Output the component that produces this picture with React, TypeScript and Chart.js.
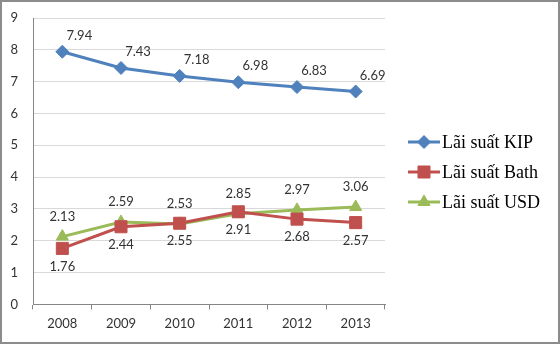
import React, { useEffect, useRef } from "react";
import { Chart, registerables } from "chart.js";

Chart.register(...registerables);

const years = ["2008", "2009", "2010", "2011", "2012", "2013"];
const kip = [7.94, 7.43, 7.18, 6.98, 6.83, 6.69];
const bath = [1.76, 2.44, 2.55, 2.91, 2.68, 2.57];
const usd = [2.13, 2.59, 2.53, 2.85, 2.97, 3.06];
const seriesNames = ["Lãi suất KIP", "Lãi suất Bath", "Lãi suất USD"];
const yTicks = [0, 1, 2, 3, 4, 5, 6, 7, 8, 9];

const COLORS = ["#4F81BD", "#C0504D", "#9BBB59"];
const LABEL_FONT = "13px Lato";

const labelPlugin = {
  id: "valueLabels",
  afterDatasetsDraw(chart: any) {
    const ctx = chart.ctx;
    ctx.save();
    ctx.font = LABEL_FONT;
    ctx.fillStyle = "#333333";
    ctx.textAlign = "center";
    ctx.textBaseline = "middle";
    chart.data.datasets.forEach((ds: any, i: number) => {
      const meta = chart.getDatasetMeta(i);
      meta.data.forEach((pt: any, j: number) => {
        const v = ds.data[j];
        ctx.fillText(v.toFixed(2), pt.x + ds.labelDx, pt.y + ds.labelDy);
      });
    });
    ctx.restore();
  },
};

function drawMarker(ctx: any, style: string, x: number, y: number, r: number) {
  ctx.beginPath();
  if (style === "rectRot") {
    ctx.moveTo(x - r, y);
    ctx.lineTo(x, y - r);
    ctx.lineTo(x + r, y);
    ctx.lineTo(x, y + r);
    ctx.closePath();
  } else if (style === "rect") {
    const s = Math.SQRT1_2 * r;
    ctx.rect(x - s, y - s, 2 * s, 2 * s);
  } else {
    const side = (r * 3) / Math.sqrt(3);
    ctx.moveTo(x - side / 2, y + r / 2);
    ctx.lineTo(x + side / 2, y + r / 2);
    ctx.lineTo(x, y - r);
    ctx.closePath();
  }
  ctx.fill();
  ctx.stroke();
}

const legendPlugin = {
  id: "sideLegend",
  afterDraw(chart: any) {
    const ctx = chart.ctx;
    const area = chart.chartArea;
    const x0 = area.right + 23;
    const cy = 170;
    ctx.save();
    chart.data.datasets.forEach((ds: any, i: number) => {
      const y = cy + (i - 1) * 30;
      ctx.strokeStyle = ds.borderColor;
      ctx.lineWidth = 3;
      ctx.beginPath();
      ctx.moveTo(x0, y);
      ctx.lineTo(x0 + 32, y);
      ctx.stroke();
      ctx.fillStyle = ds.backgroundColor;
      ctx.strokeStyle = ds.borderColor;
      ctx.lineWidth = 1;
      drawMarker(ctx, ds.pointStyle, x0 + 16, y, ds.pointRadius);
      ctx.fillStyle = "#000000";
      ctx.font = "18px 'Liberation Serif'";
      ctx.textAlign = "left";
      ctx.textBaseline = "middle";
      ctx.fillText(ds.label, x0 + 34, y + 1);
    });
    ctx.restore();
  },
};

export default function App() {
  const ref = useRef<HTMLCanvasElement | null>(null);

  useEffect(() => {
    document.body.style.margin = "0";
    if (!ref.current) return;
    const styles = ["rectRot", "rect", "triangle"];
    const labelOffsets = [
      [17, -16],
      [0, 18],
      [0, -20],
    ];
    const series = [kip, bath, usd];
    const chart = new Chart(ref.current, {
      type: "line",
      data: {
        labels: years,
        datasets: series.map((d, i) => ({
          label: seriesNames[i],
          data: d,
          borderColor: COLORS[i],
          backgroundColor: COLORS[i],
          borderWidth: 3,
          pointStyle: styles[i],
          pointRadius: i === 1 ? 8.5 : i === 2 ? 7 : 6.5,
          pointBorderWidth: 1,
          pointHoverRadius: 7,
          tension: 0,
          labelDx: labelOffsets[i][0],
          labelDy: labelOffsets[i][1],
        })) as any,
      },
      options: {
        animation: false,
        responsive: false,
        maintainAspectRatio: false,
        layout: { padding: { left: 0, right: 173, top: 16, bottom: 3 } },
        plugins: {
          legend: { display: false },
          tooltip: { enabled: false },
        },
        scales: {
          x: {
            offset: true,
            grid: {
              offset: true,
              drawOnChartArea: false,
              drawTicks: true,
              tickLength: 5,
              color: "#868686",
            },
            border: { display: true, color: "#868686", width: 1 },
            ticks: {
              color: "#333333",
              font: { family: "Lato", size: 13 },
              padding: 7,
            },
          },
          y: {
            min: 0,
            max: 9,
            afterBuildTicks: (scale: any) => {
              scale.ticks = yTicks.map((v) => ({ value: v }));
            },
            afterFit: (scale: any) => {
              scale.width = 31;
              scale.paddingTop = 8;
              scale.paddingBottom = 8;
            },
            grid: {
              color: "#d9d9d9",
              drawTicks: false,
              lineWidth: 1,
            },
            border: { display: true, color: "#868686", width: 1 },
            ticks: {
              color: "#333333",
              font: { family: "Lato", size: 13 },
              padding: 15,
            },
          },
        },
      },
      plugins: [labelPlugin, legendPlugin],
    });
    return () => chart.destroy();
  }, []);

  return (
    <div
      style={{
        width: 560,
        height: 344,
        boxSizing: "border-box",
        border: "2px solid #8c8c8c",
        background: "#ffffff",
      }}
    >
      <canvas ref={ref} width={556} height={340} style={{ display: "block" }} />
    </div>
  );
}
